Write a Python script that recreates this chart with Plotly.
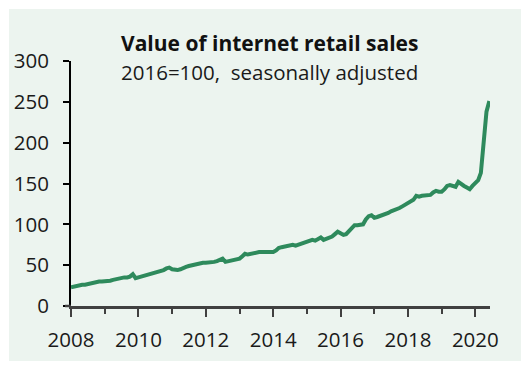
import pandas as pd
import plotly.graph_objects as go

# Monthly index values, 2016=100, seasonally adjusted (Jan 2008 - Jun 2020)
start_month = "2008-01-01"
end_month = "2020-06-01"
sales_index = [
    # 2008
    23, 24, 25, 25, 26, 26, 27, 27, 28, 29, 30, 30,
    # 2009
    30, 31, 31, 32, 33, 33, 34, 35, 35, 36, 39, 34,
    # 2010
    35, 36, 37, 38, 38, 40, 40, 41, 43, 44, 46, 47,
    # 2011
    45, 44, 44, 45, 47, 48, 49, 50, 51, 52, 53, 53,
    # 2012
    53, 53, 54, 54, 55, 56, 58, 54, 55, 55, 56, 57,
    # 2013
    58, 61, 64, 63, 64, 65, 65, 66, 66, 66, 66, 66,
    # 2014
    66, 68, 71, 72, 73, 73, 74, 75, 74, 75, 76, 77,
    # 2015
    78, 79, 81, 80, 82, 84, 81, 82, 83, 85, 88, 91,
    # 2016
    89, 87, 88, 92, 95, 99, 99, 99, 100, 106, 110, 111,
    # 2017
    108, 109, 110, 112, 112, 114, 116, 117, 119, 120, 122, 124,
    # 2018
    127, 128, 130, 135, 134, 135, 135, 135, 136, 139, 141, 140,
    # 2019
    140, 143, 147, 148, 147, 146, 152, 149, 147, 145, 143, 147,
    # 2020
    150, 154, 163, 198, 238, 251,
]
months = pd.date_range(start_month, end_month, freq="MS")

title_text = "<b>Value of internet retail sales</b>"
subtitle_text = "2016=100,  seasonally adjusted"
y_ticks = [0, 50, 100, 150, 200, 250, 300]

W, H = 521, 365
ML, MR, MT, MB = 71, 31, 61, 54
PW, PH = W - ML - MR, H - MT - MB

BG = "#ecf4ef"
LINE = "#2e8a5c"
AXIS_GREY = "#404040"
FONT = "Open Sans"
FS = 20.5


def px_x(p):
    return (p - ML) / PW


def px_y(p):
    return (H - MB - p) / PH


fig = go.Figure(
    go.Scatter(
        x=months,
        y=sales_index,
        mode="lines",
        line=dict(color=LINE, width=4),
        hoverinfo="skip",
    )
)

fig.update_layout(
    width=W,
    height=H,
    margin=dict(l=ML, r=MR, t=MT, b=MB, pad=0),
    paper_bgcolor="white",
    plot_bgcolor=BG,
    showlegend=False,
    font=dict(family=FONT, size=FS, color="#1a1a1a"),
    shapes=[
        # light panel behind the whole chart
        dict(
            type="rect", xref="paper", yref="paper", layer="below",
            x0=px_x(9), x1=px_x(W + 2), y0=px_y(H + 2), y1=px_y(8),
            fillcolor=BG, line=dict(width=0),
        ),
        # x-axis baseline continues under the y-axis ticks
        dict(
            type="line", xref="paper", yref="paper", layer="above",
            x0=px_x(65), x1=0, y0=0, y1=0,
            line=dict(color=AXIS_GREY, width=2.5),
        ),
    ],
    annotations=[
        dict(
            text=title_text, xref="paper", yref="paper",
            x=px_x(119), y=px_y(42.5), xanchor="left", yanchor="middle",
            showarrow=False, font=dict(family=FONT, size=21, color="#111111"),
        ),
        dict(
            text=subtitle_text, xref="paper", yref="paper",
            x=px_x(119), y=px_y(72), xanchor="left", yanchor="middle",
            showarrow=False, font=dict(family=FONT, size=FS, color="#1a1a1a"),
        ),
    ],
)

fig.update_xaxes(
    type="date",
    range=[start_month, "2020-06-08"],
    tick0="2008-01-01",
    dtick="M24",
    tickformat="%Y",
    ticks="outside",
    ticklen=8,
    tickwidth=2,
    tickcolor=AXIS_GREY,
    showline=True,
    linecolor=AXIS_GREY,
    linewidth=2.5,
    showgrid=False,
    zeroline=False,
    tickfont=dict(family=FONT, size=FS, color="#1a1a1a"),
    ticklabelstandoff=6,
    minor=dict(dtick="M12", tick0="2008-01-01", ticks="outside",
               ticklen=5, tickwidth=2, tickcolor=AXIS_GREY, showgrid=False),
)

fig.update_yaxes(
    range=[0, 300],
    tickvals=y_ticks,
    ticks="outside",
    ticklen=6,
    tickwidth=2,
    tickcolor="black",
    showline=True,
    linecolor="black",
    linewidth=2,
    showgrid=False,
    zeroline=False,
    tickfont=dict(family=FONT, size=FS, color="#1a1a1a"),
    ticklabelstandoff=10,
)

fig.write_html("out.html")
